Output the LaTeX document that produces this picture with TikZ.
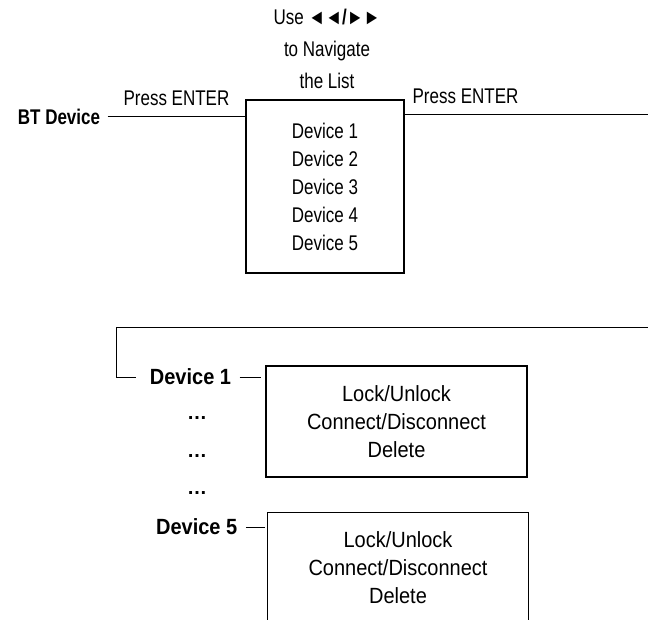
\documentclass[tikz,border=0pt]{standalone}
\usepackage{graphicx}
\usepackage{fontspec}
\setmainfont{Liberation Sans}
\usetikzlibrary{positioning}
\newcommand{\tallA}[1]{\scalebox{1}[1.25]{#1}}
\newcommand{\tallB}[1]{\scalebox{1}[1.1]{#1}}
\begin{document}
\begin{tikzpicture}[x=1pt,y=-1pt,line width=1pt,
    list box/.style={draw,line width=1.3pt,align=center,minimum width=158pt,minimum height=173pt,font=\fontsize{17}{28}\selectfont},
    menu box/.style={draw,line width=1.3pt,align=center,minimum width=261pt,minimum height=111pt,font=\fontsize{20}{28}\selectfont},
    key/.style={font=\bfseries\fontsize{20}{24}\selectfont,inner xsep=8pt},
    hint/.style={font=\fontsize{17}{20}\selectfont}]

    \useasboundingbox (0,0) rectangle (648,620);

    \node[list box] (list) at (325,186.5) {\tallA{Device 1}\\\tallA{Device 2}\\\tallA{Device 3}\\\tallA{Device 4}\\\tallA{Device 5}};
    \node[align=center,font=\fontsize{17}{32}\selectfont] (nav) at (327,49) {\tallA{Use \textbf{◄◄/►►}}\\\tallA{to Navigate}\\\tallA{the List}};

    \node[font=\bfseries\fontsize{17}{20}\selectfont,inner xsep=7pt] (bt) at (59,117) {\tallA{BT Device}};
    \coordinate (endR) at (648,115);

    \draw (bt.east) -- node[hint,above=7pt]{\tallA{Press ENTER}} (bt.east -| list.west);
    \draw (list.east |- endR) -- node[hint,above=7pt,pos=0.25]{\tallA{Press ENTER}} (endR);

    \coordinate (wrapR) at (648,328);
    \coordinate (wrapL) at (116,328);

    \node[key] (dev1) at (190.5,377) {\tallB{Device 1}};
    \node[menu box] (menu1) at (396.5,421.5) {\tallB{Lock/Unlock}\\\tallB{Connect/Disconnect}\\\tallB{Delete}};

    \node[key,anchor=base] (dots1) at (197,419) {…};
    \node[key,anchor=base] (dots2) at (197,457) {…};
    \node[key,anchor=base] (dots3) at (197,494) {…};

    \node[key] (dev5) at (196.7,527) {\tallB{Device 5}};
    \node[menu box] (menu5) at (398,568) {\tallB{Lock/Unlock}\\\tallB{Connect/Disconnect}\\\tallB{Delete}};

    \draw (wrapR) -- (wrapL) |- ([xshift=-5pt]dev1.west);
    \draw[shorten >=4pt] (dev1.east) -- (dev1.east -| menu1.west);
    \draw[shorten >=2pt] (dev5.east) -- (dev5.east -| menu5.west);
\end{tikzpicture}
\end{document}
